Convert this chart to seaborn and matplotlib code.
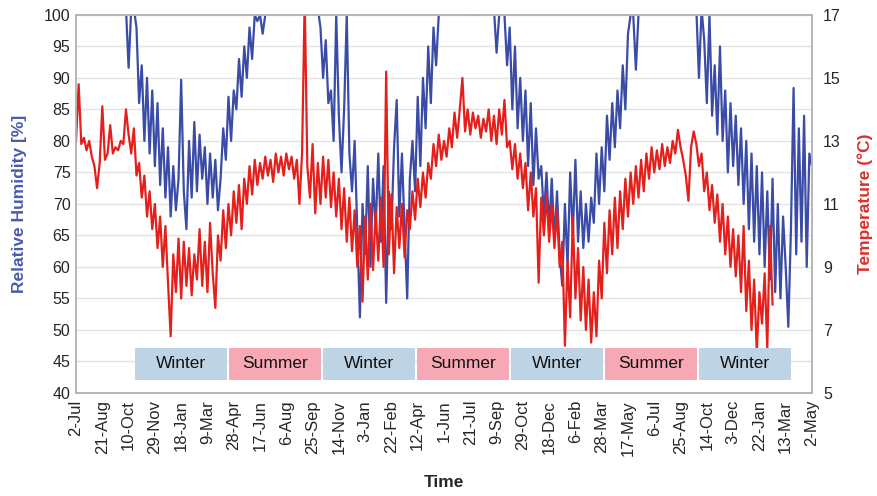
import numpy as np
import pandas as pd
import matplotlib
matplotlib.use("Agg")
import matplotlib.pyplot as plt
from matplotlib.patches import Rectangle
import seaborn as sns

# ---------------- data (5-day sampling, day 0 = 2-Jul) ----------------
STEP_DAYS = 5
rh_values = [
    101, 101, 101, 101, 101, 101, 101, 101, 101, 101, 101, 101, 101, 101, 101, 101, 101, 101, 101, 101,
    91.6, 101, 101, 98, 86, 92, 80, 90, 78, 88, 76, 86, 73, 82, 71, 79, 68, 76, 69, 74,
    89.7, 72, 66, 80, 71, 83, 72, 81, 74, 79, 70, 78, 71, 77, 69, 74, 82, 77, 87, 80,
    88, 85, 93, 87, 95, 90, 98, 93, 100, 99, 100, 97, 100, 101, 101, 101, 101, 101, 101, 101,
    101, 101, 101, 101, 101, 101, 101, 101, 101, 101, 101, 101, 101, 98, 90, 96, 86, 88, 80, 100,
    84, 75, 85, 100, 78, 72, 80, 66, 52, 70, 62, 76, 60, 74, 66, 78, 64, 76, 54.3, 72,
    66, 79, 86.5, 68, 78, 66, 55, 74, 80, 72, 87, 76, 90, 82, 95, 86, 98, 92, 100, 101,
    101, 101, 101, 101, 101, 101, 101, 101, 101, 100, 100, 100, 100, 100, 100, 101, 101, 101, 101, 101,
    94, 100, 100, 100, 92, 98, 85, 95, 82, 90, 80, 88, 76, 86, 73, 82, 74, 76, 68, 75,
    66, 74, 64, 72, 62, 57, 70, 60, 75, 65, 77, 64, 72, 63, 70, 64, 71, 67, 78, 70,
    79, 72, 84, 77, 86, 79, 88, 82, 92, 85, 97, 100, 100, 91.3, 100, 101, 101, 101, 101, 101,
    101, 101, 101, 101, 101, 101, 101, 101, 101, 101, 101, 101, 101, 101, 101, 101, 101, 90, 101, 96,
    86, 100, 84, 92, 81, 95, 80, 88, 75, 86, 76, 84, 73, 82, 70, 80, 66, 78, 64, 76,
    62, 75, 60, 72, 58, 74, 56, 70, 55, 68, 60, 50.5, 66, 88.4, 62, 82, 64, 84, 60, 78,
    76,
]
temp_values = [
    13.0, 14.8, 12.9, 13.1, 12.7, 13.0, 12.5, 12.2, 11.5, 12.3, 14.1, 12.4, 12.6, 13.5, 12.6, 12.8, 12.7, 13.0, 12.9, 14.0,
    13.2, 12.6, 13.4, 11.9, 12.3, 11.2, 11.9, 10.6, 11.4, 10.2, 11.0, 9.6, 10.6, 9.0, 10.3, 8.5, 6.8, 9.4, 8.2, 9.9,
    8.0, 9.8, 8.4, 9.6, 8.1, 9.4, 8.6, 10.2, 8.4, 9.8, 8.2, 10.4, 8.8, 7.7, 10.0, 9.2, 10.8, 9.6, 11.0, 10.0,
    11.4, 10.4, 11.6, 10.2, 11.8, 11.0, 12.2, 11.3, 12.4, 11.6, 12.3, 11.8, 12.5, 11.9, 12.4, 11.7, 12.6, 12.0, 12.5, 11.9,
    12.6, 12.1, 12.5, 11.8, 12.4, 11.0, 12.6, 17.5, 12.2, 11.2, 12.9, 10.7, 12.3, 11.0, 12.5, 11.2, 12.4, 10.9, 12.0, 10.6,
    11.8, 10.2, 11.5, 9.8, 11.2, 9.5, 10.8, 9.0, 10.3, 7.9, 10.6, 8.6, 11.0, 8.9, 10.8, 9.2, 11.2, 9.0, 15.2, 9.4,
    11.3, 8.8, 10.9, 9.6, 11.0, 9.3, 10.8, 10.2, 11.4, 10.5, 11.8, 10.9, 12.0, 11.2, 12.3, 11.8, 12.9, 12.2, 13.2, 12.4,
    13.0, 12.5, 13.4, 12.8, 13.9, 13.1, 14.0, 15.0, 13.3, 14.0, 13.2, 13.9, 13.4, 13.8, 13.1, 13.7, 13.3, 14.0, 13.0, 13.8,
    12.9, 14.0, 13.2, 14.3, 12.8, 13.0, 12.1, 12.9, 11.8, 12.6, 11.5, 12.3, 10.8, 12.0, 10.6, 11.5, 8.5, 11.2, 10.0, 11.3,
    9.8, 11.0, 9.6, 10.8, 9.0, 9.8, 6.5, 9.2, 7.4, 10.6, 8.0, 9.6, 7.3, 9.0, 7.0, 8.6, 6.6, 8.2, 6.8, 9.2,
    8.0, 10.4, 8.8, 10.8, 9.4, 11.2, 9.6, 11.4, 10.2, 11.8, 10.6, 12.0, 11.0, 12.2, 11.2, 12.4, 11.4, 12.6, 11.8, 12.8,
    12.0, 12.7, 12.1, 12.9, 12.2, 12.8, 12.3, 13.0, 12.6, 13.35, 12.8, 12.4, 11.9, 11.1, 12.8, 13.3, 12.9, 12.2, 12.6, 11.4,
    12.0, 10.8, 11.6, 10.4, 11.3, 9.8, 11.0, 9.4, 10.6, 9.0, 10.2, 8.7, 10.0, 8.2, 10.3, 7.6, 9.2, 7.0, 8.6, 6.3,
    8.2, 7.2, 8.8, 6.4, 10.3, 7.8,
]
tick_labels = [
    "2-Jul", "21-Aug", "10-Oct", "29-Nov", "18-Jan", "9-Mar", "28-Apr", "17-Jun", "6-Aug", "25-Sep",
    "14-Nov", "3-Jan", "22-Feb", "12-Apr", "1-Jun", "21-Jul", "9-Sep", "29-Oct", "18-Dec", "6-Feb",
    "28-Mar", "17-May", "6-Jul", "25-Aug", "14-Oct", "3-Dec", "22-Jan", "13-Mar", "2-May",
]
seasons = ["Winter", "Summer", "Winter", "Summer", "Winter", "Summer", "Winter"]

# ---------------- frames ----------------
rh_df = pd.DataFrame({"day": np.arange(len(rh_values)) * STEP_DAYS, "rh": rh_values})
t_df = pd.DataFrame({"day": np.arange(len(temp_values)) * STEP_DAYS, "temp": temp_values})

sns.set_style("white")
plt.rcParams["font.family"] = ["Liberation Sans", "DejaVu Sans"]

BLUE = "#3a4ca6"
RED = "#e3201c"
LABEL_BLUE = "#4a5bab"
LABEL_RED = "#d8302c"

fig = plt.figure(figsize=(8.78, 4.96), dpi=100)
ax = fig.add_axes([0.0866, 0.2077, 0.8382, 0.7623])
ax2 = ax.twinx()

sns.lineplot(data=rh_df, x="day", y="rh", ax=ax, color=BLUE, linewidth=1.6, sort=False)
sns.lineplot(data=t_df, x="day", y="temp", ax=ax2, color=RED, linewidth=1.6, sort=False)

ax.set_xlim(0, 1400)
ax.set_ylim(40, 100)
ax2.set_ylim(5, 17)
ax.set_yticks(np.arange(40, 101, 5))
ax2.set_yticks(np.arange(5, 18, 2))
ax.set_xticks(np.arange(0, 1401, 50))
ax.set_xticklabels(tick_labels, rotation=90, fontsize=12)
ax.tick_params(axis="y", labelsize=11.5, length=0, pad=4)
ax.tick_params(axis="x", length=0, pad=5)
ax2.tick_params(axis="y", labelsize=11.5, length=0, pad=8)
ax.yaxis.grid(True, color="#e3e3e3", linewidth=1.0)
ax.set_axisbelow(True)

for a in (ax, ax2):
    for s in a.spines.values():
        s.set_color("#b5b5b5")
        s.set_linewidth(1.2)

ax.set_xlabel("Time", fontsize=12.5, fontweight="bold", labelpad=14)
ax.set_ylabel("Relative Humidity [%]", fontsize=12.5, fontweight="bold", color=LABEL_BLUE, labelpad=12)
ax2.set_ylabel("Temperature (\u00b0C)", fontsize=12.5, fontweight="bold", color=LABEL_RED, labelpad=12)

# season boxes
box_start, box_width, box_period = 112.0, 176.0, 178.8
box_bottom, box_height = 42.1, 5.0
season_colors = {"Winter": "#bed4e5", "Summer": "#f6a9b4"}
for k, name in enumerate(seasons):
    x0 = box_start + k * box_period
    rect = Rectangle((x0, box_bottom), box_width, box_height, transform=ax.transData,
                     facecolor=season_colors[name], edgecolor="none", zorder=5)
    ax2.add_patch(rect)
    ax2.text(x0 + box_width / 2, box_bottom + box_height / 2, name, transform=ax.transData,
             ha="center", va="center", fontsize=12.5, color="#111111", zorder=6)

fig.savefig("out.png", dpi=100)
